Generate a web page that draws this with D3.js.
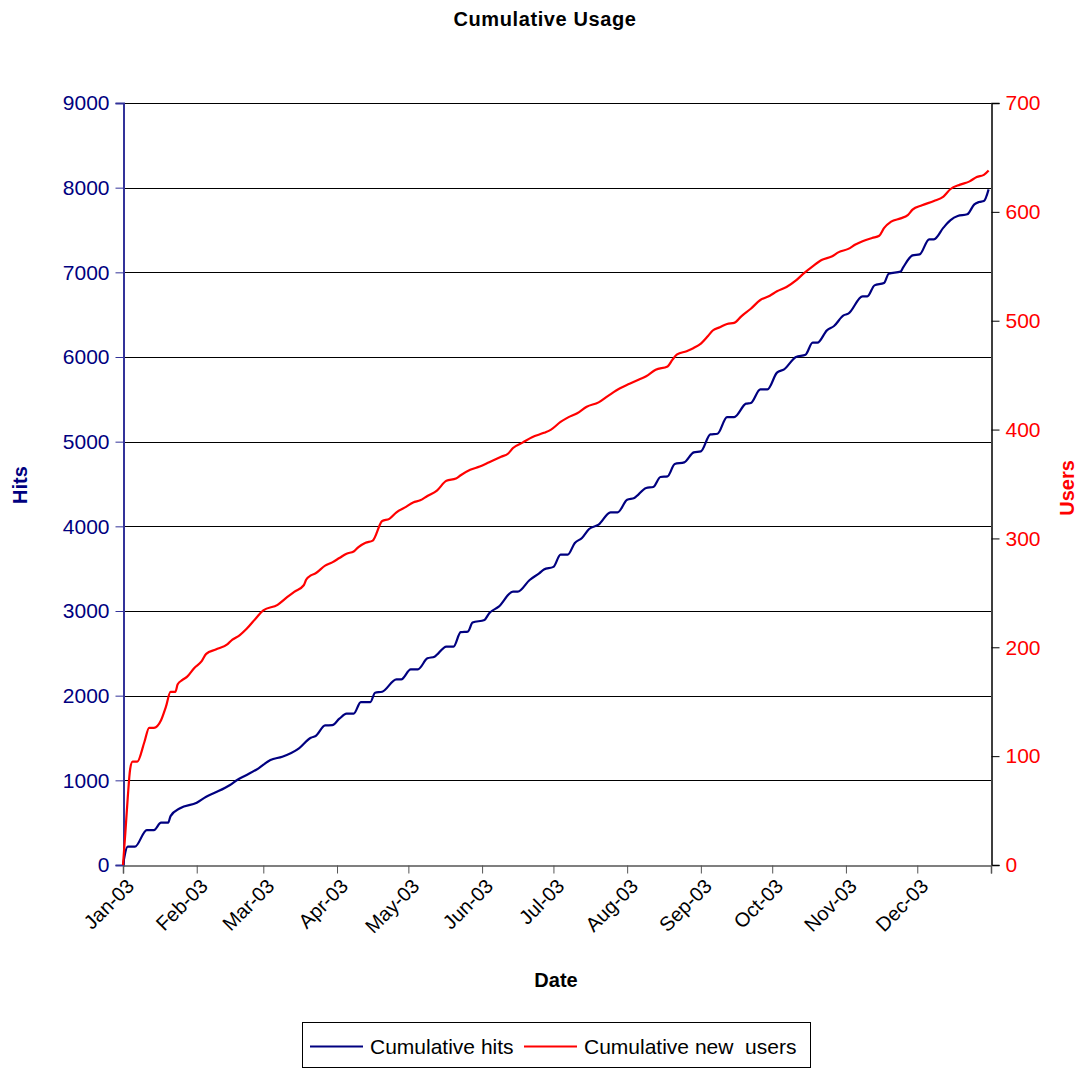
<!DOCTYPE html>
<html>
<head>
<meta charset="utf-8">
<script src="https://cdn.jsdelivr.net/npm/d3@7/dist/d3.min.js"></script>
<style>
  html, body { margin: 0; padding: 0; background: #fff; }
  svg { display: block; font-family: "Liberation Sans", Arial, sans-serif; }
</style>
</head>
<body>
<svg id="chart" width="1081" height="1068"></svg>
<script>
// Cumulative hits: day of year 2003 (0 = 1 Jan) and running total
const hitDays = [0, 2, 5, 10, 13, 16, 19, 20, 24, 31, 35, 39, 45, 48, 52, 57, 62, 67, 74, 79, 81, 85, 88, 91, 94, 97,
  100, 104, 106, 109, 115, 117, 121, 124, 128, 131, 136, 139, 142, 145, 147, 152, 154, 158, 164, 166, 171, 175, 177,
  181, 184, 187, 190, 193, 196, 200, 205, 208, 212, 215, 220, 223, 226, 229, 232, 236, 240, 243, 247, 250, 254, 257,
  262, 264, 268, 271, 275, 278, 283, 287, 290, 292, 296, 299, 303, 305, 311, 313, 316, 320, 322, 327, 328, 332, 335,
  339, 341, 345, 348, 351, 355, 358, 360, 362, 364];
const hitValues = [0, 216, 216, 413, 413, 500, 500, 578, 670, 736, 807, 858, 945, 1004, 1063, 1142, 1240, 1279, 1378,
  1504, 1523, 1648, 1652, 1728, 1787, 1787, 1924, 1924, 2035, 2047, 2193, 2193, 2311, 2311, 2441, 2461, 2579, 2579,
  2750, 2757, 2863, 2895, 2974, 3051, 3228, 3228, 3366, 3445, 3490, 3521, 3666, 3666, 3804, 3863, 3969, 4020, 4165,
  4165, 4315, 4335, 4453, 4465, 4583, 4590, 4736, 4755, 4873, 4885, 5086, 5094, 5291, 5291, 5449, 5457, 5618, 5618,
  5815, 5854, 6000, 6027, 6169, 6169, 6315, 6366, 6492, 6512, 6716, 6716, 6846, 6874, 6984, 7010, 7055, 7200, 7212,
  7390, 7390, 7528, 7617, 7665, 7685, 7803, 7831, 7842, 7980];

// Cumulative new users: day of year 2003 and running total
const userDays = [0, 1, 2, 3, 4, 6, 9, 11, 13, 16, 18, 20, 22, 23, 25, 27, 30, 33, 35, 39, 44, 46, 49, 52, 56, 59, 65,
  69, 72, 76, 77, 79, 81, 85, 88, 91, 94, 97, 99, 102, 105, 109, 112, 115, 119, 122, 125, 128, 132, 136, 140, 142,
  146, 150, 154, 159, 162, 164, 168, 172, 177, 180, 184, 187, 191, 195, 200, 204, 209, 213, 217, 220, 224, 229, 231,
  233, 237, 240, 243, 246, 248, 251, 254, 257, 260, 264, 268, 272, 275, 279, 283, 286, 290, 294, 298, 301, 305, 308,
  311, 315, 318, 320, 323, 327, 330, 332, 336, 341, 345, 348, 352, 356, 359, 362, 364];
const userValues = [0, 30, 62, 88, 95, 95, 113, 126, 126, 133, 145, 159, 159, 166, 170, 173, 181, 187, 194, 198, 203,
  207, 211, 217, 227, 234, 239, 246, 251, 257, 262, 266, 268, 275, 278, 282, 286, 288, 292, 296, 298, 316, 318, 324,
  329, 333, 335, 339, 344, 353, 355, 358, 363, 366, 370, 375, 378, 383, 388, 393, 397, 400, 407, 411, 415, 421, 425,
  431, 438, 442, 446, 449, 455, 458, 464, 469, 472, 475, 479, 486, 491, 494, 497, 498, 504, 511, 519, 523, 527, 531,
  537, 543, 550, 556, 559, 563, 566, 570, 573, 576, 578, 585, 591, 594, 597, 602, 606, 610, 614, 621, 625, 628, 632,
  634, 638];

const hitTicks = [0, 1000, 2000, 3000, 4000, 5000, 6000, 7000, 8000, 9000];
const userTicks = [0, 100, 200, 300, 400, 500, 600, 700];
const monthTicks = ["2003-01-01", "2003-02-01", "2003-03-01", "2003-04-01", "2003-05-01", "2003-06-01",
  "2003-07-01", "2003-08-01", "2003-09-01", "2003-10-01", "2003-11-01", "2003-12-01"];

const NAVY = "#000080";
const RED = "#ff0000";
const FONT = "'Liberation Sans', Arial, sans-serif";

const svg = d3.select("#chart");
const plot = { left: 123, right: 991, top: 103, bottom: 865 };

const yearStart = new Date(2003, 0, 1);
const yearEnd = new Date(2004, 0, 1);
const parse = d3.timeParse("%Y-%m-%d");
const dayToDate = d => d3.timeDay.offset(yearStart, d);

const x = d3.scaleTime().domain([yearStart, yearEnd]).range([plot.left, plot.right]);
const yHits = d3.scaleLinear().domain([0, 9000]).range([plot.bottom, plot.top]);
const yUsers = d3.scaleLinear().domain([0, 700]).range([plot.bottom, plot.top]);

const hits = hitDays.map((d, i) => ({ date: dayToDate(d), v: hitValues[i] }));
const users = userDays.map((d, i) => ({ date: dayToDate(d), v: userValues[i] }));

// Title
svg.append("text")
  .attr("x", 545).attr("y", 26)
  .attr("text-anchor", "middle")
  .attr("font-size", 20).attr("font-weight", "bold")
  .attr("letter-spacing", 0.6)
  .attr("fill", "#000")
  .text("Cumulative Usage");

// Horizontal gridlines at each hits tick
svg.append("g")
  .selectAll("line")
  .data(hitTicks.filter(t => t > 0))
  .join("line")
  .attr("x1", plot.left).attr("x2", plot.right)
  .attr("y1", d => Math.round(yHits(d)) + 0.5).attr("y2", d => Math.round(yHits(d)) + 0.5)
  .attr("stroke", "#000").attr("stroke-width", 1);

// Left axis (hits)
const leftAxis = svg.append("g")
  .attr("transform", `translate(${plot.left + 0.5},0)`)
  .call(d3.axisLeft(yHits).tickValues(hitTicks).tickSize(8).tickPadding(6).tickFormat(d3.format("d")));
leftAxis.select(".domain").attr("stroke", "#333399").attr("stroke-width", 2);
leftAxis.selectAll(".tick line").attr("stroke", "#333399");
leftAxis.selectAll(".tick text")
  .attr("fill", NAVY).attr("font-size", 21)
  .attr("font-family", FONT);

// Right axis (users)
const rightAxis = svg.append("g")
  .attr("transform", `translate(${plot.right + 0.5},0)`)
  .call(d3.axisRight(yUsers).tickValues(userTicks).tickSize(8).tickPadding(6).tickFormat(d3.format("d")));
rightAxis.select(".domain").attr("stroke", "#000").attr("stroke-width", 1.5);
rightAxis.selectAll(".tick line").attr("stroke", "#000");
rightAxis.selectAll(".tick text")
  .attr("fill", RED).attr("font-size", 21)
  .attr("font-family", FONT);

// Bottom axis (months)
const bottomAxis = svg.append("g")
  .attr("transform", `translate(0,${plot.bottom + 0.5})`)
  .call(d3.axisBottom(x)
    .tickValues(monthTicks.map(parse).concat([yearEnd]))
    .tickSize(8)
    .tickFormat(d => d.getFullYear() === 2004 ? "" : d3.timeFormat("%b-%y")(d)));
bottomAxis.select(".domain").attr("stroke", "#555").attr("stroke-width", 1.5);
bottomAxis.selectAll(".tick line").attr("stroke", "#555");
bottomAxis.selectAll(".tick text")
  .attr("fill", "#000").attr("font-size", 20)
  .attr("font-family", FONT)
  .attr("text-anchor", "end")
  .attr("dx", "0").attr("dy", "0")
  .attr("transform", "translate(4,14) rotate(-45)");

// Axis titles
svg.append("text")
  .attr("transform", "translate(27,485) rotate(-90)")
  .attr("text-anchor", "middle")
  .attr("font-size", 20).attr("font-weight", "bold").attr("fill", NAVY)
  .text("Hits");
svg.append("text")
  .attr("transform", "translate(1074,488) rotate(-90)")
  .attr("text-anchor", "middle")
  .attr("font-size", 20).attr("font-weight", "bold").attr("fill", RED)
  .text("Users");
svg.append("text")
  .attr("x", 556).attr("y", 987)
  .attr("text-anchor", "middle")
  .attr("font-size", 20).attr("font-weight", "bold").attr("fill", "#000")
  .text("Date");

// Series lines
const lineHits = d3.line().x(d => x(d.date)).y(d => yHits(d.v)).curve(d3.curveMonotoneX);
const lineUsers = d3.line().x(d => x(d.date)).y(d => yUsers(d.v)).curve(d3.curveMonotoneX);

svg.append("path").datum(hits)
  .attr("d", lineHits)
  .attr("fill", "none").attr("stroke", NAVY).attr("stroke-width", 2.2)
  .attr("stroke-linejoin", "round");
svg.append("path").datum(users)
  .attr("d", lineUsers)
  .attr("fill", "none").attr("stroke", RED).attr("stroke-width", 2.2)
  .attr("stroke-linejoin", "round");

// Legend
const legend = svg.append("g");
legend.append("rect")
  .attr("x", 302.5).attr("y", 1022.5).attr("width", 508).attr("height", 45)
  .attr("fill", "#fff").attr("stroke", "#000").attr("stroke-width", 1);
const legendItems = [
  { label: "Cumulative hits", color: NAVY, x0: 310, tx: 370 },
  { label: "Cumulative new  users", color: RED, x0: 524, tx: 584 }
];
legendItems.forEach(it => {
  legend.append("line")
    .attr("x1", it.x0).attr("x2", it.x0 + 53)
    .attr("y1", 1046.5).attr("y2", 1046.5)
    .attr("stroke", it.color).attr("stroke-width", 2);
  legend.append("text")
    .attr("x", it.tx).attr("y", 1054)
    .attr("font-size", 21).attr("fill", "#000")
    .attr("font-family", FONT)
    .style("white-space", "pre")
    .text(it.label);
});
</script>
</body>
</html>
